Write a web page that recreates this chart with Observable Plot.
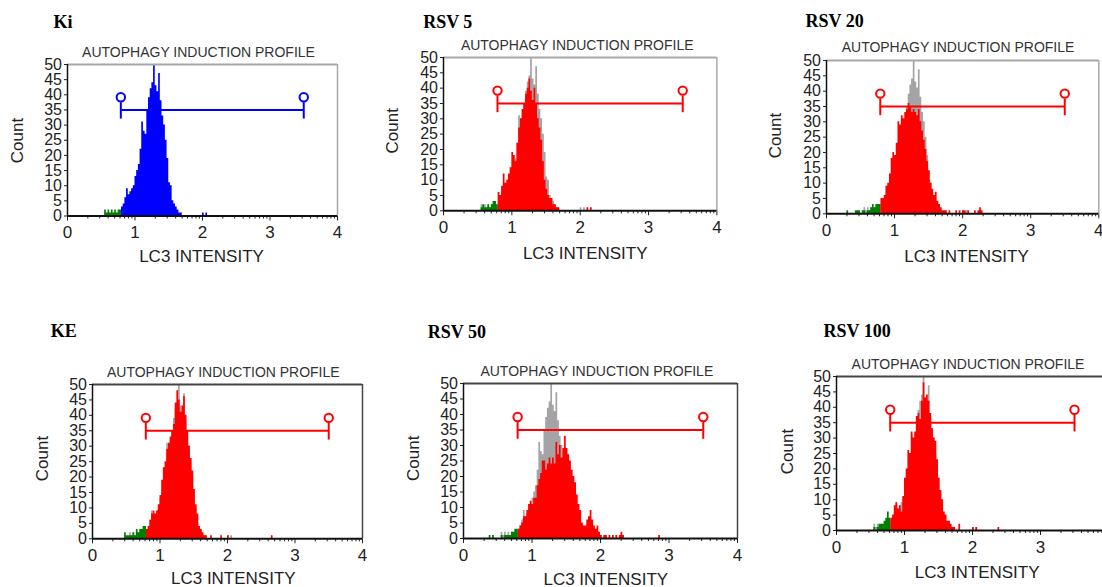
<!DOCTYPE html>
<html><head><meta charset="utf-8">
<script src="https://cdn.jsdelivr.net/npm/d3@7"></script>
<script src="https://cdn.jsdelivr.net/npm/@observablehq/plot@0.6"></script>
<style>
html,body{margin:0;padding:0;background:#fff;}
#wrap{position:relative;width:1102px;height:587px;overflow:hidden;background:#fff;}
#wrap svg{position:absolute;overflow:visible;}
</style></head><body><div id="wrap"></div>
<script>
// ---- data ----
const binWidth = 0.025;
const gateLow = 0.79, gateHigh = 3.5, gateY = 35, gateTickLow = 32, gateTickHigh = 37.4, gateHandleY = 39.2;
const panelNames = ["Ki", "RSV 5", "RSV 20", "KE", "RSV 50", "RSV 100"];
const subtitleText = "AUTOPHAGY INDUCTION PROFILE";
const xLabel = "LC3 INTENSITY";
const yLabel = "Count";
const xTicks = [0, 1, 2, 3, 4];
const yTicks = [0, 5, 10, 15, 20, 25, 30, 35, 40, 45, 50];

const kiStart = 0.55;
const kiCounts = [2,1,2,1,2,1,2,1,2,2, 3,4,6,9,7,8,9,10,
  13,15,17,22,31,28,27,35,39,42,44,50,43,41,47,38,33,30,25,19,11,10,5,4,3,2,1,1,
  0,0,0,0,0,0,0,0,0,0,0,0, 1,0,1];

const rsv5Start = 0.55;
const rsv5Counts = [1,2,1,1,2,1,2,3,3,2, 6,5,8,12,9,10,12,14,
  19,18,16,22,27,30,33,35,38,40,43,39,36,40,35,30,27,23,16,10,7,5,4,4,2,2,1,1,
  0,0,0,0,0,0,0,0,0,0,0,0,0,0,0,0, 1,0,1];

const rsv20Start = 0.3;
const rsv20Counts = [1,0,0,0,0,1,1,1,0,1,1,0,1,1,2,3,2,3,3,3, 5,5,6,9,10,13,18,20,
  19,23,30,29,32,31,33,34,36,35,33,34,33,32,34,30,27,24,21,17,14,10,8,6,7,4,3,2,
  1,1,1,0,1,0,0,0,1,0,1,0,1,1,0,1,0,0,0,1,0,1,2,1];

const keStart = 0.475;
const keCounts = [2,1,1,1,1,2,1,3,2,3,3,4,4, 3,4,6,8,9,8,9,11,
  14,19,23,25,29,31,33,35,37,44,48,45,41,43,46,40,35,30,26,22,16,11,8,4,3,2,1,1,
  0,0,1,0,0,0,0,0,1,0,0,0,1];
const keTailX = [2.65], keTailCounts = [1];

const rsv50Start = 0.375;
const rsv50Counts = [1,0,1,0,0,0,0,1,0,1,1,1,1,2,2,3,3, 3,4,5,7,7,9,11,12,
  11,13,13,17,19,21,25,25,22,24,26,24,26,24,31,27,30,26,29,33,29,27,25,22,20,18,14,11,
  9,5,4,4,6,7,9,6,4,3,4,2,1,0,1,1,0,1,0,1,0,1,0,1,2,1];
const rsv50TailX = [2.85], rsv50TailCounts = [1];

const rsv100Start = 0.525;
const rsv100Counts = [0,1,0,1,2,2,2,3,4,6,4, 4,5,8,9,7,8,6,11,
  17,20,26,25,32,30,32,37,38,36,42,48,43,44,42,38,33,30,29,23,17,13,10,6,5,3,3,2,
  1,1,0,0,2,0,0,0,0,0,0,0,1,0,1];
const rsv100TailX = [2.375], rsv100TailCounts = [1];

const blue = "#0000ff", red = "#ff0000", green = "#008000", grey = "#a4a4a6";

const series = [
  {start: kiStart, counts: kiCounts, tailX: [], tailCounts: [], color: blue, overlay: false},
  {start: rsv5Start, counts: rsv5Counts, tailX: [], tailCounts: [], color: red, overlay: true},
  {start: rsv20Start, counts: rsv20Counts, tailX: [], tailCounts: [], color: red, overlay: true},
  {start: keStart, counts: keCounts, tailX: keTailX, tailCounts: keTailCounts, color: red, overlay: true},
  {start: rsv50Start, counts: rsv50Counts, tailX: rsv50TailX, tailCounts: rsv50TailCounts, color: red, overlay: true},
  {start: rsv100Start, counts: rsv100Counts, tailX: rsv100TailX, tailCounts: rsv100TailCounts, color: red, overlay: true}
];

// ---- layout (pixels) ----
const pageWidth = 1102;
const layout = [
  {x0: 67, x4: 337, top: 64, bottom: 215.5, tX: 53, tB: 27, sX: 198, sB: 56.5, cX: 22, cY: 140, lX: 201, lB: 261.5, frame: "#a8a8a8"},
  {x0: 443.3, x4: 716.7, top: 56.7, bottom: 210, tX: 423, tB: 27, sX: 577, sB: 49, cX: 398, cY: 130, lX: 585, lB: 258, frame: "#a8a8a8"},
  {x0: 826, x4: 1098.3, top: 60, bottom: 213.3, tX: 805, tB: 27, sX: 957.5, sB: 52, cX: 780, cY: 135, lX: 966, lB: 262, frame: "#a8a8a8"},
  {x0: 91.7, x4: 361.7, top: 384, bottom: 538.3, tX: 50, tB: 337, sX: 222.5, sB: 377, cX: 47, cY: 458, lX: 232.5, lB: 584, frame: "#444"},
  {x0: 462.7, x4: 736.7, top: 382.7, bottom: 537.7, tX: 427, tB: 337, sX: 596, sB: 375, cX: 418, cY: 457.5, lX: 605, lB: 584, frame: "#444"},
  {x0: 836, x4: 1108, top: 376, bottom: 530, tX: 823, tB: 336, sX: 967.5, sB: 368, cX: 792, cY: 451, lX: 976.7, lB: 577, frame: "#444"}
];

const minorTicks = d3.range(0, 4).flatMap(d => d3.range(2, 10).map(k => d + Math.log10(k)));

function bins(start, counts) {
  return counts.map((c, i) => ({x1: start + i * binWidth, c}));
}
function stepPoints(bs, z) {
  if (!bs.length) return [];
  const pts = bs.map(b => ({x: b.x1, y: b.c, z}));
  pts.push({x: bs[bs.length - 1].x1 + binWidth, y: 0, z});
  return pts;
}

const wrap = document.getElementById("wrap");
const mL = 75, mT = 65, mR = 12, mB = 60;

series.forEach((s, idx) => {
  const L = layout[idx];
  const W = L.x4 - L.x0, H = L.bottom - L.top;
  const all = bins(s.start, s.counts);
  const gated = all.filter(b => b.x1 + binWidth / 2 >= gateLow);
  const ungated = all.filter(b => b.x1 + binWidth / 2 < gateLow);
  const tails = s.tailX.map((x, i) => ({x1: x, c: s.tailCounts[i]}));
  const mainPts = stepPoints(gated, "main").concat(...tails.map((t, i) => stepPoints([t], "tail" + i)));
  const greenPts = stepPoints(ungated, "green");
  const greyPts = stepPoints(bins(kiStart, kiCounts), "grey");
  // tick labels that fall past the page edge are not shown in the reference
  const visibleXTicks = xTicks.filter(t => L.x0 + t * W / 4 < pageWidth);

  const marks = [];
  if (s.overlay) marks.push(Plot.areaY(greyPts, {x: "x", y: "y", z: "z", curve: "step-after", fill: grey}));
  marks.push(Plot.areaY(greenPts, {x: "x", y: "y", z: "z", curve: "step-after", fill: green}));
  marks.push(Plot.areaY(mainPts, {x: "x", y: "y", z: "z", curve: "step-after", fill: s.color}));
  // frame top/right
  marks.push(Plot.ruleY([50], {stroke: L.frame, strokeWidth: 2}));
  marks.push(Plot.ruleX([4], {stroke: L.frame, strokeWidth: 1.5}));
  // axes
  marks.push(Plot.axisY(yTicks, {tickSize: 3, tickPadding: 2.5, fontSize: 16, label: null, stroke: "#222", fill: "#222"}));
  marks.push(Plot.axisX(minorTicks, {tickSize: 3, tickFormat: () => "", label: null, stroke: "#222"}));
  marks.push(Plot.axisX(visibleXTicks, {tickSize: 5, tickPadding: 5, fontSize: 17, label: null, stroke: "#222", fill: "#222"}));
  marks.push(Plot.ruleY([0], {stroke: "#111", strokeWidth: 2}));
  marks.push(Plot.ruleX([0], {stroke: "#111", strokeWidth: 1.5}));
  // gate marker
  marks.push(Plot.ruleY([gateY], {x1: gateLow, x2: gateHigh, stroke: s.color, strokeWidth: 2}));
  marks.push(Plot.ruleX([gateLow, gateHigh], {y1: gateTickLow, y2: gateTickHigh, stroke: s.color, strokeWidth: 2}));
  marks.push(Plot.dot([{x: gateLow, y: gateHandleY}, {x: gateHigh, y: gateHandleY}], {x: "x", y: "y", r: 4.2, stroke: s.color, strokeWidth: 2, fill: "none"}));
  // texts
  marks.push(Plot.text([panelNames[idx]], {text: d => d, frameAnchor: "top-left", dx: L.tX - L.x0, dy: L.tB - L.top, textAnchor: "start", lineAnchor: "bottom", fontSize: 18, fontWeight: "bold", fontFamily: "Liberation Serif, Times New Roman, serif", fill: "#000"}));
  marks.push(Plot.text([subtitleText], {text: d => d, frameAnchor: "top", dx: L.sX - (L.x0 + W / 2), dy: L.sB - L.top, textAnchor: "middle", lineAnchor: "bottom", fontSize: 14, fill: "#333"}));
  marks.push(Plot.text([yLabel], {text: d => d, frameAnchor: "left", dx: L.cX - L.x0, dy: L.cY - (L.top + H / 2), rotate: -90, textAnchor: "middle", lineAnchor: "bottom", fontSize: 17, fill: "#222"}));
  marks.push(Plot.text([xLabel], {text: d => d, frameAnchor: "bottom", dx: L.lX - (L.x0 + W / 2), dy: L.lB - L.bottom, textAnchor: "middle", lineAnchor: "bottom", fontSize: 17, fill: "#222"}));

  const chart = Plot.plot({
    width: mL + W + mR,
    height: mT + H + mB,
    marginLeft: mL, marginRight: mR, marginTop: mT, marginBottom: mB,
    x: {domain: [0, 4], axis: null},
    y: {domain: [0, 50], axis: null},
    style: {fontFamily: "Liberation Sans, Arial, sans-serif", background: "transparent", overflow: "visible", color: "#222"},
    marks
  });
  chart.style.left = (L.x0 - mL) + "px";
  chart.style.top = (L.top - mT) + "px";
  wrap.appendChild(chart);
});
</script>
</body></html>
